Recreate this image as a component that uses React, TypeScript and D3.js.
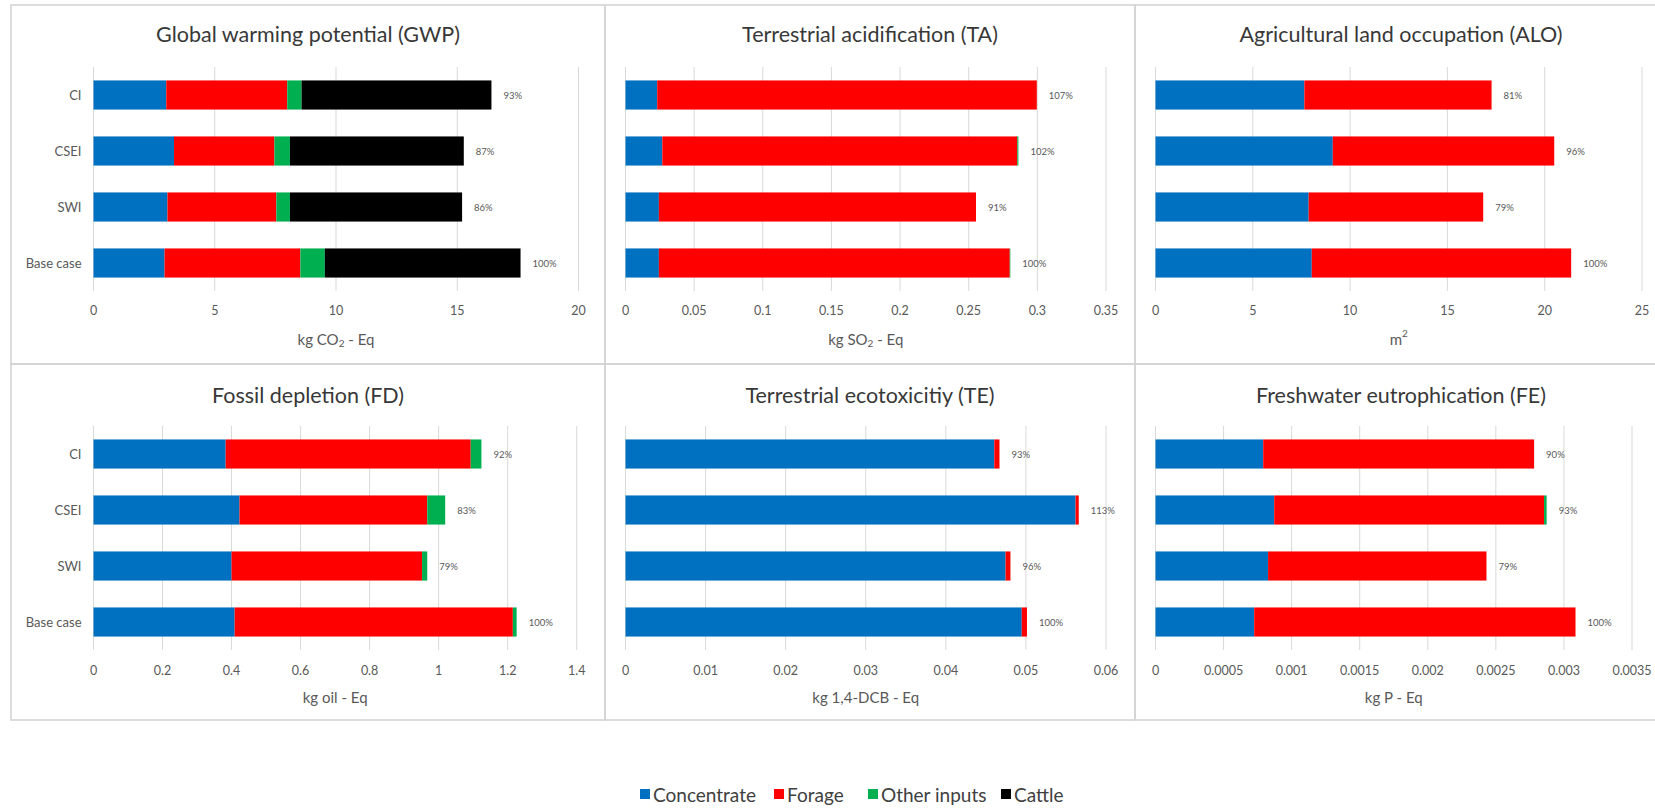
import React from "react";
import * as d3 from "d3";

// Scenarios, listed top to bottom as they appear on each chart
const scenarios = ["CI", "CSEI", "SWI", "Base case"];
const baseScenario = "Base case";

// Contribution groups stacked in every bar
const components = ["Concentrate", "Forage", "Other inputs", "Cattle"];
const componentColors = ["#0070C0", "#FF0000", "#00B050", "#000000"];

// Per scenario: [Concentrate, Forage, Other inputs, Cattle]
const gwpValues = [
  [3.0, 4.99, 0.59, 7.83],
  [3.32, 4.14, 0.64, 7.17],
  [3.05, 4.49, 0.56, 7.1],
  [2.93, 5.6, 1.01, 8.07],
];
const taValues = [
  [0.0231, 0.2765, 0, 0],
  [0.0268, 0.2586, 0.0008, 0],
  [0.0243, 0.231, 0, 0],
  [0.0243, 0.2556, 0.0004, 0],
];
const aloValues = [
  [7.65, 9.62, 0, 0],
  [9.11, 11.38, 0, 0],
  [7.87, 8.97, 0, 0],
  [8.03, 13.33, 0, 0],
];
const fdValues = [
  [0.383, 0.71, 0.031, 0],
  [0.423, 0.544, 0.052, 0],
  [0.4, 0.552, 0.015, 0],
  [0.409, 0.806, 0.011, 0],
];
const teValues = [
  [0.04605, 0.00065, 0, 0],
  [0.0562, 0.0004, 0, 0],
  [0.04746, 0.00061, 0, 0],
  [0.04948, 0.00065, 0, 0],
];
const feValues = [
  [0.000791, 0.00199, 0, 0],
  [0.000872, 0.001982, 0.000019, 0],
  [0.000827, 0.001604, 0, 0],
  [0.000725, 0.00236, 0, 0],
];

// Axis tick labels
const gwpTicks = ["0", "5", "10", "15", "20"];
const taTicks = ["0", "0.05", "0.1", "0.15", "0.2", "0.25", "0.3", "0.35"];
const aloTicks = ["0", "5", "10", "15", "20", "25"];
const fdTicks = ["0", "0.2", "0.4", "0.6", "0.8", "1", "1.2", "1.4"];
const teTicks = ["0", "0.01", "0.02", "0.03", "0.04", "0.05", "0.06"];
const feTicks = ["0", "0.0005", "0.001", "0.0015", "0.002", "0.0025", "0.003", "0.0035"];

// Chart titles and unit labels (parts flagged sub/sup are drawn shifted)
const titles = [
  "Global warming potential (GWP)",
  "Terrestrial acidification (TA)",
  "Agricultural land occupation (ALO)",
  "Fossil depletion (FD)",
  "Terrestrial ecotoxicitiy (TE)",
  "Freshwater eutrophication (FE)",
];
type Part = { t: string; sub?: boolean; sup?: boolean };
const units: Part[][] = [
  [{ t: "kg CO" }, { t: "2", sub: true }, { t: " - Eq" }],
  [{ t: "kg SO" }, { t: "2", sub: true }, { t: " - Eq" }],
  [{ t: "m" }, { t: "2", sup: true }],
  [{ t: "kg oil - Eq" }],
  [{ t: "kg 1,4-DCB - Eq" }],
  [{ t: "kg P - Eq" }],
];

const panelValues = [gwpValues, taValues, aloValues, fdValues, teValues, feValues];
const panelTicks = [gwpTicks, taTicks, aloTicks, fdTicks, teTicks, feTicks];

// ---- layout ----
const W = 1655;
const H = 809;
const FONT = "Lato, 'Open Sans', 'DejaVu Sans', sans-serif";
const GRID = "#d9d9d9";
const TEXT = "#595959";

const cols = [
  { left: 11, right: 605, center: 308 },
  { left: 605, right: 1135, center: 870 },
  { left: 1135, right: 1668, center: 1401 },
];
const rows = [
  { top: 5, bottom: 364, plotTop: 67, plotBottom: 291, titleY: 34, tickY: 310, unitY: 339 },
  { top: 364, bottom: 720, plotTop: 426, plotBottom: 650, titleY: 395, tickY: 670, unitY: 697 },
];
// plot x-extent for each of the six charts
const plotX = [
  [93.5, 578.5],
  [625.5, 1106],
  [1155.5, 1642],
  [93.5, 576.7],
  [625.5, 1106],
  [1155.5, 1632],
];

const legendX = [640, 774, 868, 1001];
const legendY = 794;

function UnitLabel({ parts, x, y }: { parts: Part[]; x: number; y: number }) {
  let shift = 0;
  return (
    <text x={x} y={y} textAnchor="middle" dominantBaseline="central" fontSize={15} fill={TEXT} fontFamily={FONT}>
      {parts.map((p, i) => {
        const target = p.sub ? 4 : p.sup ? -6 : 0;
        const dy = target - shift;
        shift = target;
        return (
          <tspan key={i} dy={dy} fontSize={p.sub || p.sup ? 10 : 15}>
            {p.t}
          </tspan>
        );
      })}
    </text>
  );
}

function Panel({ index }: { index: number }) {
  const col = cols[index % 3];
  const row = rows[Math.floor(index / 3)];
  const values = panelValues[index];
  const ticks = panelTicks[index].map(Number);
  const tickLabels = panelTicks[index];
  const [x0, x1] = plotX[index];

  const x = d3.scaleLinear().domain([0, ticks[ticks.length - 1]]).range([x0, x1]);
  const y = d3
    .scaleBand<string>()
    .domain(scenarios)
    .range([row.plotTop, row.plotBottom])
    .paddingInner(0.48)
    .paddingOuter(0.24);

  const stacked = d3
    .stack<number[], number>()
    .keys(components.map((_, i) => i))
    .value((d, k) => d[k])(values);

  const totals = values.map((v) => d3.sum(v));
  const baseTotal = totals[scenarios.indexOf(baseScenario)];

  return (
    <g>
      <rect
        x={col.left}
        y={row.top}
        width={col.right - col.left}
        height={row.bottom - row.top}
        fill="none"
        stroke="#d4d4d4"
        strokeWidth={1.6}
      />
      <text
        x={col.center}
        y={row.titleY}
        textAnchor="middle"
        dominantBaseline="central"
        fontSize={21.5}
        fill="#383838"
        fontFamily={FONT}
      >
        {titles[index]}
      </text>
      {ticks.map((t, i) => (
        <g key={i}>
          <line x1={x(t)} x2={x(t)} y1={row.plotTop} y2={row.plotBottom} stroke={GRID} strokeWidth={1} />
          <text
            x={x(t)}
            y={row.tickY}
            textAnchor="middle"
            dominantBaseline="central"
            fontSize={12.5}
            fill={TEXT}
            fontFamily={FONT}
          >
            {tickLabels[i]}
          </text>
        </g>
      ))}
      {stacked.map((series, si) =>
        series.map((seg, ri) => {
          const w = x(seg[1]) - x(seg[0]);
          if (w <= 0) return null;
          return (
            <rect
              key={`${si}-${ri}`}
              x={x(seg[0])}
              y={y(scenarios[ri])}
              width={w}
              height={y.bandwidth()}
              fill={componentColors[si]}
            />
          );
        })
      )}
      {scenarios.map((s, ri) => (
        <text
          key={s}
          x={x(totals[ri]) + 12}
          y={(y(s) as number) + y.bandwidth() / 2}
          dominantBaseline="central"
          fontSize={9.5}
          fill={TEXT}
          fontFamily={FONT}
        >
          {`${Math.round((totals[ri] / baseTotal) * 100)}%`}
        </text>
      ))}
      {index % 3 === 0 &&
        scenarios.map((s) => (
          <text
            key={s}
            x={x0 - 12}
            y={(y(s) as number) + y.bandwidth() / 2}
            textAnchor="end"
            dominantBaseline="central"
            fontSize={13}
            fill={TEXT}
            fontFamily={FONT}
          >
            {s}
          </text>
        ))}
      <UnitLabel parts={units[index]} x={(x0 + x1) / 2} y={row.unitY} />
    </g>
  );
}

export default function App() {
  return (
    <svg
      width={W}
      height={H}
      viewBox={`0 0 ${W} ${H}`}
      style={{ position: "absolute", left: 0, top: 0, background: "#fff" }}
    >
      <rect x={0} y={0} width={W} height={H} fill="#fff" />
      {titles.map((_, i) => (
        <Panel key={i} index={i} />
      ))}
      {components.map((c, i) => (
        <g key={c}>
          <rect x={legendX[i]} y={legendY - 5} width={10} height={10} fill={componentColors[i]} />
          <text
            x={legendX[i] + 13}
            y={legendY}
            dominantBaseline="central"
            fontSize={19}
            fill="#404040"
            fontFamily={FONT}
          >
            {c}
          </text>
        </g>
      ))}
    </svg>
  );
}
